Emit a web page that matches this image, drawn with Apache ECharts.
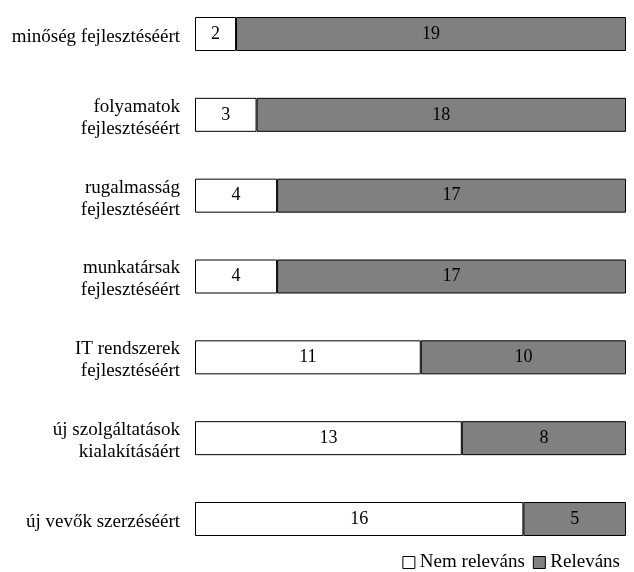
<!DOCTYPE html>
<html>
<head>
<meta charset="utf-8">
<script src="https://cdn.jsdelivr.net/npm/echarts@6/dist/echarts.min.js"></script>
<style>
  html, body { margin: 0; padding: 0; background: #fff; }
  #chart { width: 634px; height: 572px; }
</style>
</head>
<body>
<div id="chart"></div>
<script>
// Categories, top to bottom
const categories = [
  'minőség fejlesztéséért',
  'folyamatok\nfejlesztéséért',
  'rugalmasság\nfejlesztéséért',
  'munkatársak\nfejlesztéséért',
  'IT rendszerek\nfejlesztéséért',
  'új szolgáltatások\nkialakításáért',
  'új vevők szerzéséért'
];
const nemRelevans = [2, 3, 4, 4, 11, 13, 16];
const relevans = [19, 18, 17, 17, 10, 8, 5];
const seriesNames = ['Nem releváns', 'Releváns'];

const font = 'Liberation Serif, Times New Roman, serif';

const chart = echarts.init(document.getElementById('chart'));

const labelStyle = {
  show: true,
  position: 'inside',
  color: '#000',
  fontFamily: font,
  fontSize: 18
};

chart.setOption({
  animation: false,
  textStyle: { fontFamily: font },
  legend: {
    data: seriesNames,
    right: 9,
    top: 548,
    itemWidth: 12,
    itemHeight: 12,
    itemGap: 8,
    icon: 'rect',
    textStyle: { fontFamily: font, fontSize: 19, color: '#000' },
    itemStyle: { borderColor: '#000', borderWidth: 1 }
  },
  // categories sit on the ticks, so the first and last bars touch the grid edges
  grid: { left: 195, right: 8, top: 34, height: 485 },
  xAxis: {
    type: 'value',
    min: 0,
    max: 21,
    show: false
  },
  yAxis: {
    type: 'category',
    data: categories,
    inverse: true,
    boundaryGap: false,
    axisLine: { show: false },
    axisTick: { show: false },
    splitLine: { show: false },
    axisLabel: {
      color: '#000',
      fontFamily: font,
      fontSize: 19,
      lineHeight: 22,
      margin: 15,
      align: 'right',
      // a thin spacer line on top lowers each label block by a few pixels
      formatter: v => '{s| }\n' + v.split('\n').map(s => '{t|' + s + '}').join('\n'),
      rich: {
        s: { fontSize: 1, lineHeight: 6 },
        t: { color: '#000', fontFamily: font, fontSize: 19, lineHeight: 22 }
      }
    }
  },
  series: [
    {
      name: seriesNames[0],
      type: 'bar',
      stack: 'total',
      barWidth: 34,
      data: nemRelevans,
      itemStyle: { color: '#ffffff', borderColor: '#000', borderWidth: 1 },
      label: labelStyle
    },
    {
      name: seriesNames[1],
      type: 'bar',
      stack: 'total',
      barWidth: 34,
      data: relevans,
      itemStyle: { color: '#808080', borderColor: '#000', borderWidth: 1 },
      label: labelStyle
    }
  ]
});
</script>
</body>
</html>
